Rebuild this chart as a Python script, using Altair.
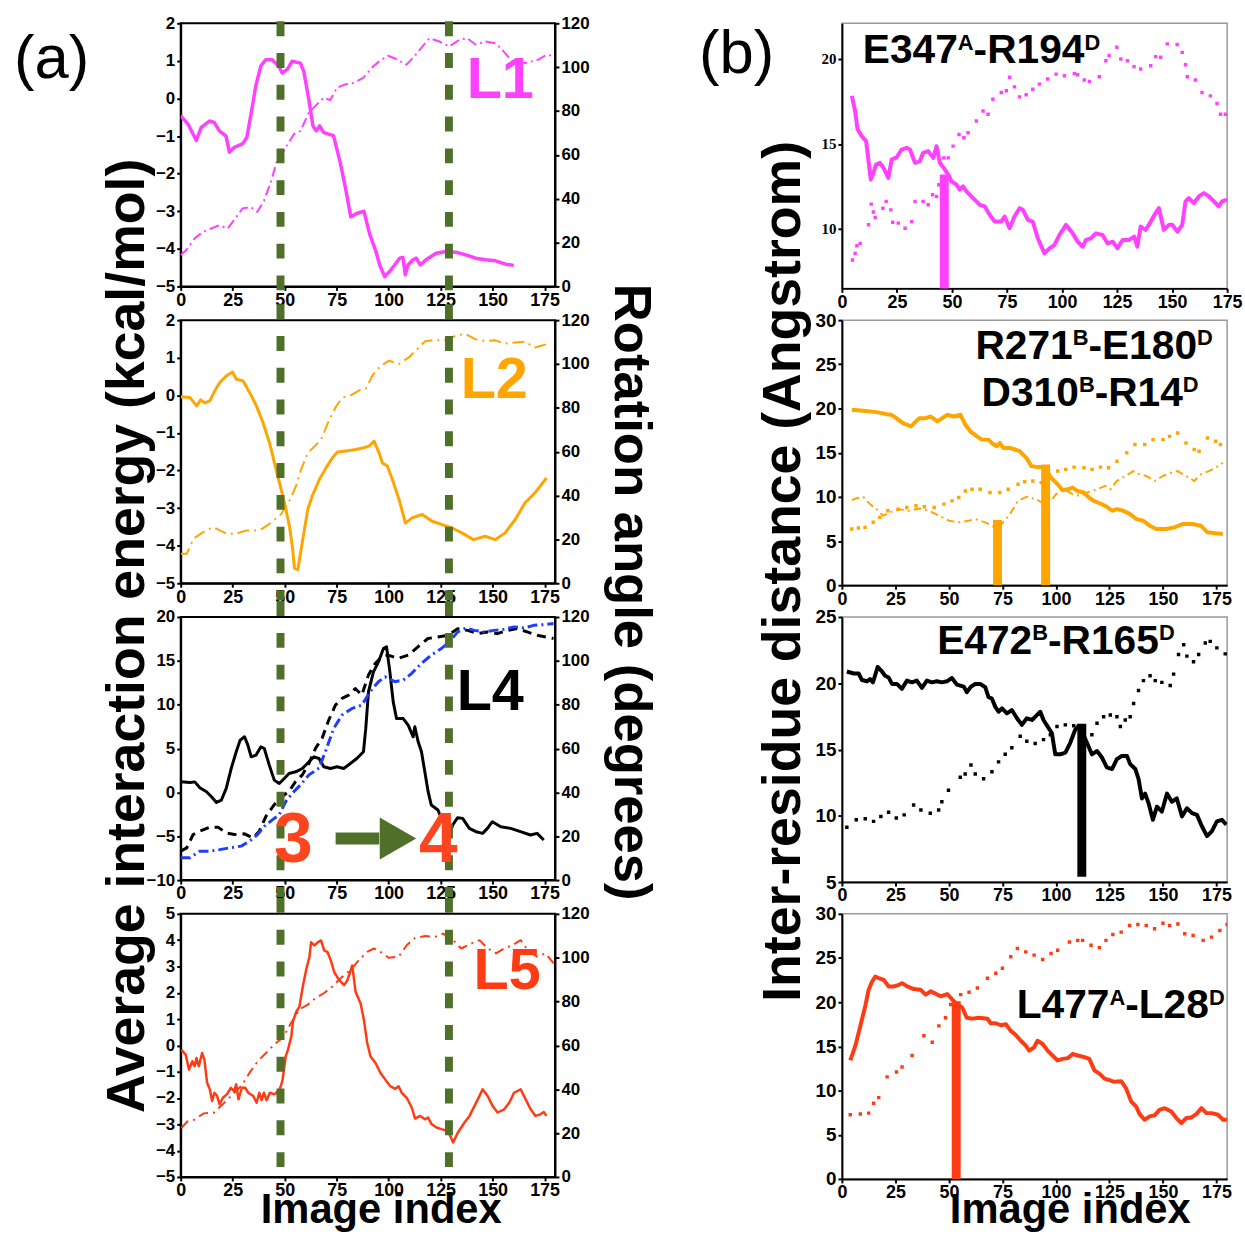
import altair as alt
import pandas as pd

FONT = "Liberation Sans"
SERIF = "Liberation Serif"

MAGENTA = "#ff40ff"
ORANGE = "#ffa500"
RED = "#ff3b14"
BLUE = "#1f3cff"
GREEN = "#4e7028"
TXTRED = "#ff4420"

# ---------------- panel (a) data: (image index, value) ----------------
L1_E = [(0,-0.46),(3.5,-0.68),(7.5,-1.12),(9.9,-0.77),(13.8,-0.60),(16.2,-0.64),(18.6,-0.86),(21.8,-1.0),(23.4,-1.43),(25.8,-1.30),
        (29.7,-1.21),(31.8,-1.04),(34.5,-0.20),(36.1,0.33),(38.5,0.86),(40.9,1.03),(44,1.03),(47.2,0.86),(48.8,0.68),(51.2,0.77),
        (53.6,0.99),(57.6,0.94),(59.2,0.72),(61.6,-0.02),(63.6,-0.73),(65.2,-0.86),(66.8,-0.73),(68.7,-0.90),(71.1,-0.95),(73.5,-0.99),
        (76.7,-1.70),(79,-2.31),(81.8,-3.15),(84.6,-3.06),(88.1,-3.0),(91,-3.63),(93.9,-4.07),(95.7,-4.43),(98.1,-4.74),(100.5,-4.60),
        (102.9,-4.43),(105.3,-4.25),(106.9,-4.23),(108,-4.69),(109.3,-4.43),(111.7,-4.29),(113.3,-4.25),(115.2,-4.43),(118,-4.29),(122.8,-4.12),
        (127.6,-4.07),(132.3,-4.09),(137.1,-4.16),(141.9,-4.25),(146.7,-4.29),(151.4,-4.32),(156.2,-4.41),(160.2,-4.44)]
L1_R = [(0,14.3),(2.7,16.6),(6.7,21.9),(10.7,24.9),(14.6,26.4),(18.6,27.9),(22.6,26.4),(25,29.4),(29.7,35.5),(33.7,36.2),(36.9,34),
        (40.1,39.2),(43.3,47.5),(46.1,56.6),(48.8,60.4),(52,65.7),(54.4,69.4),(57.6,70.9),(61.6,79.2),(65.5,83),(68.7,86),(71.9,85),
        (75.1,90.6),(79,92.1),(83,92.8),(87.8,95.1),(92.6,100.4),(96.5,103.4),(99.7,105.2),(103.7,103.7),(108.5,101.1),(111.7,104.2),
        (115.6,108.7),(119.6,113.2),(124.4,111.7),(129.2,109.4),(134,112.5),(137.9,113.2),(141.9,110.2),(146.7,111.7),(151.4,110.9),
        (154.6,107.9),(159.4,102.6),(165.7,101.9),(172,103.4),(176,105.7),(180,104.9)]

L2_E = [(0,-0.04),(4.5,-0.06),(7.7,-0.28),(9.6,-0.12),(11.6,-0.2),(14,-0.15),(16.4,0.12),(18.8,0.34),(22,0.52),(24.9,0.62),(26.8,0.43),
        (30,0.38),(33.2,0.07),(36.4,-0.28),(39.6,-0.73),(42.7,-1.26),(45.1,-1.8),(47.5,-2.33),(49.9,-2.86),(52.3,-3.48),(53.9,-4.11),
        (54.7,-4.6),(56.3,-4.64),(57.9,-4.11),(59.5,-3.57),(61.1,-3.04),(63.5,-2.64),(66.7,-2.24),(69.9,-1.93),(73,-1.66),(75.4,-1.51),
        (79.4,-1.48),(84.2,-1.44),(87.4,-1.40),(90.6,-1.35),(93,-1.22),(95.4,-1.53),(97,-1.8),(99.4,-1.88),(101.8,-2.24),(105,-2.77),
        (108.1,-3.4),(111.3,-3.26),(116.1,-3.17),(120.9,-3.35),(125.7,-3.44),(130.5,-3.53),(135.2,-3.66),(140.8,-3.84),(146.4,-3.75),
        (151.2,-3.84),(156,-3.66),(160.8,-3.31),(165.6,-2.86),(170.3,-2.6),(175.9,-2.2)]
L2_R = [(0,13.5),(2.9,13.5),(6.1,20.3),(10.8,23.3),(15.6,25.6),(18.8,24.1),(22,22.6),(26.8,22.6),(31.6,24.1),(38,24.1),(42.7,27.1),
        (48.3,31.6),(52.3,37.6),(55.5,44.4),(57.9,51.9),(61.1,59.4),(64.3,62.4),(67.5,65.4),(70.7,72.9),(74.6,80.5),(77.8,84.7),
        (81.8,85.7),(85.8,88),(89,88.7),(92.2,94.7),(96.2,99.2),(100.2,101.5),(105,100),(109.7,103),(113.7,106.8),(117.7,110.5),
        (122.5,110.8),(127.3,110.8),(132.1,112.8),(136.8,113.8),(141.6,111.3),(146.4,110.5),(151.2,110.8),(156,109.3),(160.8,109.8),
        (165.6,110.2),(170.3,107.5),(175.9,109)]

L4_E = [(0,1.21),(4.5,1.14),(6.8,1.2),(9.2,0.53),(12.4,0.08),(14.8,-0.49),(17.2,-1.14),(19.6,-0.87),(21.9,0.46),(24.3,2.73),(26.7,4.63),
        (28.6,5.96),(30.7,6.34),(32.3,5.39),(33.9,4.06),(36.2,4.25),(38.6,5.2),(40.2,5.01),(42.6,3.11),(45,1.4),(47.4,1.02),(49.8,1.59),
        (52.1,2.16),(55.3,2.35),(58.5,2.73),(61.7,3.49),(64.1,4.06),(66.5,3.87),(68.8,2.92),(72,2.73),(75.2,2.92),(78.4,2.73),(81.6,3.3),
        (84.7,3.87),(87.9,4.63),(89,7.29),(90.3,11.46),(92.7,13.74),(95.1,14.88),(97.5,16.4),(99,16.6),(100.6,13.74),(102.2,10.32),
        (103.8,8.42),(107,8.42),(109.4,7.67),(111.8,6.34),(112.6,7.48),(114.2,5.77),(115.8,4.63),(117.4,2.35),(119,0.08),(120.5,-1.44),
        (123.7,-2.01),(126.1,-3.34),(128.5,-5.24),(130.8,-3.72),(133.2,-2.88),(135.6,-2.96),(138.8,-4.1),(142,-4.48),(145.2,-4.67),
        (147.5,-4.1),(149.9,-3.34),(153.9,-3.91),(158.7,-4.1),(163.4,-4.48),(168.2,-4.86),(171.4,-4.67),(174.6,-5.43)]
L4_R_BLACK = [(0,13.2),(2.9,14.7),(6,20.8),(9.2,22.3),(14,24.1),(18,24.1),(21.9,21.5),(25.9,20.8),(30.7,21.1),(34.7,19.2),(37.8,22.3),
              (41,29.1),(45,34.4),(48.9,38.2),(52.1,40.5),(55.3,45),(58.5,48),(61.7,53.3),(64.9,60.2),(68,64.7),(71.2,73),(74.4,79.8),
              (77.6,82.9),(80.8,84.4),(84,87.4),(87.1,84.4),(90.3,93.5),(93.5,98.8),(96.7,101.8),(99.8,102.6),(104.6,101.1),(109.4,102.6),
              (114.1,106.4),(118.9,110.2),(123.7,110.9),(128.5,111.7),(133.2,114.7),(138,113.9),(142.8,112.4),(147.5,113.2),(152.3,112.4),
              (157.1,113.9),(161.8,114.7),(166.6,113.2),(171.4,111.7),(179.3,110.2)]
L4_R_BLUE = [(0,10.2),(4.5,10.2),(9.2,13.2),(14,13.2),(18.8,13.9),(23.5,14.7),(29.1,15.5),(33,17.7),(37,20.8),(40.2,24.5),(44.2,27.6),
             (47.4,29.8),(50.6,35.9),(53.7,39.7),(57.7,43.5),(61.7,48),(66.5,51.1),(69.6,58.6),(73.6,69.2),(77.6,75.3),(82.4,78.3),
             (87.1,79.8),(91.1,85.9),(95.1,90.5),(98.3,92.7),(103,90.5),(107,91.2),(111,94.2),(115.7,98.8),(120.5,102.6),(125.3,105.6),
             (129.2,108.6),(133.2,113.2),(137.2,115),(141.2,113.9),(145.9,113.2),(150.7,113.9),(155.5,114.4),(160.3,115.5),(165,115),
             (169.8,116.2),(174.6,116.5),(179.3,117)]

L5_E = [(0.3,-0.16),(2.4,-0.35),(4,-0.92),(5.6,-0.6),(6.7,-0.79),(7.6,-0.48),(8.7,-0.79),(10.3,-0.29),(11.4,-0.54),(12.7,-1.42),(14,-1.67),
        (15.1,-2.11),(16.2,-1.8),(17.5,-1.92),(18.7,-2.24),(20.3,-1.99),(22.2,-1.86),(24.1,-1.61),(25.7,-1.74),(26.7,-1.48),(27.8,-2.05),
        (29.4,-1.61),(31,-1.61),(32.5,-1.8),(34.9,-1.92),(36.5,-2.18),(37.8,-1.8),(38.9,-2.08),(40,-1.8),(41.3,-2.08),(42.9,-1.8),
        (45.2,-1.86),(47.6,-1.67),(48.9,-1.36),(50.5,-0.42),(51.6,-0.16),(53.2,0.34),(54,0.91),(55.6,1.28),(57.1,1.47),(58.7,2.23),
        (60.3,2.86),(61.9,3.36),(62.7,3.92),(64.3,3.8),(65.9,3.92),(67.5,3.99),(69,3.61),(70.6,3.55),(72.2,3.23),(73.8,2.79),(76.2,2.48),
        (78.6,2.29),(80.2,2.48),(82.5,3.04),(84.1,2.04),(86.5,1.6),(88.1,0.97),(89.7,0.09),(91.3,-0.42),(93.7,-0.67),(96,-1.04),
        (98.4,-1.3),(100.8,-1.55),(103.2,-1.65),(104.8,-1.55),(106.3,-1.8),(108.7,-1.99),(111.1,-2.36),(112.7,-2.78),(115.1,-2.68),
        (117.5,-2.81),(119,-2.74),(120.6,-2.99),(123,-3.12),(125.4,-3.18),(128.6,-3.25),(131,-3.69),(133.3,-3.31),(136.5,-2.93),
        (138.9,-2.68),(141.3,-2.3),(143.7,-1.92),(145.2,-1.67),(147.6,-1.92),(150,-2.3),(152.4,-2.55),(155.6,-2.43),(158,-2.18),
        (160.3,-1.8),(163.5,-1.67),(165.9,-2.05),(168.3,-2.43),(170.6,-2.68),(173,-2.62),(174.6,-2.53),(175.9,-2.68)]
L5_R = [(0.3,22.3),(3.2,25.3),(6.3,26),(11.1,29),(15.9,29.3),(20.6,33.5),(25.4,38),(29.4,41.8),(33.3,47.8),(37.3,53.1),(41.3,56.8),
        (45.2,60.6),(49.2,63.6),(53.2,70.4),(57.1,76.4),(61.1,78.6),(65.1,81.7),(69,83.9),(73,86.9),(77,90.7),(81.7,94.4),(85.7,98.9),
        (89.7,102.7),(92.9,104.2),(96,102.7),(100,100),(104.8,100.5),(108.7,105.7),(112.7,109),(117.5,109.9),(122.2,109.5),(126.2,111),
        (131,108),(134.9,104.2),(139.7,106.5),(143.7,108),(147.6,104.2),(151.6,102),(155.6,104.2),(159.5,105.7),(163.5,108),
        (167.5,102.7),(171.4,100.5),(175.4,102),(179.4,97.4)]

GREEN_X = [48, 129]
ARROW_Y = -5.25
ARROW_SHAFT = (74.5, 95.5)
ARROW_HEAD_X = 104.5

# ---------------- panel (b) data: (image index, distance) ----------------
B1_SOLID = [(4.5,17.83),(6,16.94),(7.1,15.86),(9,15.46),(11,15.17),(12.1,13.98),(13.1,12.9),(14.3,13.29),(15.5,13.79),(17.3,13.89),
            (18.9,13.59),(21.1,13.0),(22.6,14.08),(24.9,14.22),(27.1,14.67),(29.4,14.77),(30.9,14.67),(33.2,13.89),(35.4,13.98),
            (36.9,14.48),(39.2,14.58),(41.5,14.18),(43,14.87),(44.5,13.89),(46.8,13.49),(48.3,13.2),(49.8,12.8),(52,12.6),(53.5,12.31),
            (55,12.5),(56.6,12.21),(58.8,11.91),(61.1,11.62),(62.6,11.42),(64.9,11.32),(67.1,10.83),(69.4,10.43),(72.4,10.43),
            (73.9,10.73),(76.2,10.04),(78.4,10.73),(80.7,11.22),(82.2,11.12),(84.5,10.53),(86.7,10.43),(89,9.45),(92,8.56),(94.3,8.86),
            (96.5,9.05),(98.8,9.64),(101.8,10.24),(104.8,9.74),(107.1,9.25),(109.4,8.95),(110.9,9.35),(113.1,9.45),(115.4,9.74),
            (118.4,9.64),(120.7,9.15),(123,9.25),(125.2,8.86),(127.5,9.35),(130.5,9.35),(132.8,9.55),(134.2,8.95),(135.7,10.14),
            (138,9.94),(140.3,10.43),(142.5,10.93),(144,11.22),(146.3,9.94),(148.6,10.24),(150.1,10.24),(152.4,9.84),(154.6,10.24),
            (156.1,11.62),(157.6,11.81),(159.9,11.52),(162.2,11.91),(164.4,12.11),(166.7,11.91),(169,11.62),(171.2,11.32),(172.7,11.62),
            (175,11.72)]
B1_DOTS = [(4.8,8.17),(6,8.56),(6.8,9.01),(8.3,9.15),(12.1,10.24),(13.3,11.46),(14.3,10.99),(15.1,10.67),(18.6,11.22),(20.1,11.62),
           (22.2,11.12),(23.1,10.39),(25.6,10.34),(28.7,10.04),(31.7,10.43),(33.2,11.62),(36.9,11.62),(39.2,11.42),(41.2,12.01),(43,11.91),
           (44,12.6),(46.3,14.18),(48.3,14.18),(50.5,14.87),(53.2,15.56),(55.4,15.36),(57.3,15.66),(61.1,16.35),(64.1,16.94),(66.4,16.75),
           (68.6,17.63),(72.4,18.03),(74.7,18.13),(76.2,18.92),(78.4,18.36),(80.7,17.77),(83.7,17.89),(86.7,18.22),(89.7,18.52),
           (93.5,18.82),(97.3,19.11),(101.1,19.01),(105.6,19.15),(107.1,19.07),(110.1,18.76),(112.4,18.68),(116.9,18.95),(119.9,19.9),
           (121.4,20.2),(124.9,20.69),(126.7,20.0),(129.7,19.9),(132.7,19.55),(135.7,19.41),(140.3,19.6),(142.5,20.14),(144.8,20.1),
           (147.8,20.89),(152.3,20.85),(154.6,20.39),(156.1,19.66),(156.9,18.95),(160.6,18.76),(163.6,18.03),(167.4,17.83),(170.4,17.38),
           (172,16.75),(174.2,16.75)]
B1_BARS = [(46.5, 6.5, 13.2)]

B2_SOLID = [(4.6,19.85),(10,19.74),(16.2,19.59),(20.8,19.36),(23.1,19.29),(25.4,18.91),(28.5,18.35),(32.3,17.98),(34.6,18.54),(36.2,18.91),
            (39.2,18.91),(41.5,19.1),(44.6,18.54),(46.9,18.91),(49.2,19.29),(52.3,19.1),(55.4,19.29),(57.7,18.16),(60,17.42),(63.1,16.85),
            (65.4,16.48),(68.5,16.48),(70,16.1),(72.3,15.73),(73.8,16.1),(75.4,15.54),(78.5,15.54),(80.8,15.36),(83.1,15.17),(84.6,14.79),
            (86.2,14.42),(88.5,13.48),(91.5,13.37),(94.6,13.37),(97.7,12.17),(100.8,11.42),(103.1,10.75),(105.4,10.86),(107.7,11.05),
            (110,10.67),(113.1,10.49),(115.4,9.93),(117.7,9.55),(120.8,9.25),(123.8,8.88),(126.2,8.43),(128.5,8.61),(131.5,8.43),
            (134.6,8.05),(137.7,7.49),(140.8,7.3),(143.8,6.74),(146.9,6.37),(151.5,6.37),(155.4,6.55),(159.2,6.93),(163.8,6.93),
            (167.7,6.74),(170.8,5.99),(174.6,5.88),(178,5.8)]
B2_DASHED = [(4.6,9.63),(6.9,9.85),(10,10),(13.1,9.18),(16.2,8.61),(19.2,7.87),(22.3,8.24),(26.9,8.61),(31.5,8.43),(36.2,8.69),(40.8,8.43),
             (45.4,7.87),(50,7.3),(54.6,7.12),(59.2,7.3),(62.3,7.49),(66.9,7.12),(71.5,6.55),(74.6,6.93),(78.5,8.05),(82.3,9.55),(86.2,10),
             (90.8,9.74),(94.6,9.18),(97.7,9.55),(100,10.3),(103.8,10.86),(107.7,10.3),(111.5,10.11),(114.6,10.49),(119.2,10.86),
             (123.1,11.24),(125.4,10.86),(128.5,11.8),(132.3,12.36),(136.2,12.92),(139.2,12.55),(142.3,12.36),(146.2,11.8),(150,12.36),
             (153.8,12.73),(156.9,12.92),(160.8,12.36),(164.6,11.8),(167.7,12.55),(171.5,12.92),(174.6,13.3),(178,13.86)]
B2_DOTS = [(4.6,6.37),(7.7,6.48),(10.8,6.55),(14.6,7.12),(17.7,7.68),(21.5,8.43),(26.2,8.61),(30.3,8.8),(34.6,8.99),(38.5,8.88),(43.1,8.8),
           (47.7,9.18),(51.5,9.55),(54.6,9.93),(57.7,10.67),(60.8,10.86),(64.6,10.86),(69.2,10.49),(73.8,10.49),(77.7,10.86),(82.3,11.42),
           (85.4,11.72),(89.2,11.8),(93.1,11.61),(96.9,12.17),(100.8,12.92),(104.6,13.11),(108.5,13.37),(113.1,13.3),(116.9,13.11),
           (120.8,13.37),(124.6,13.3),(128.5,14.04),(133.1,14.98),(136.9,15.92),(141.5,15.92),(145.4,16.48),(150,16.48),(153.1,16.85),
           (156.9,17.23),(160.8,16.1),(164.6,15.36),(166.9,15.17),(170.8,16.67),(174.6,16.29),(176.9,15.92)]
B2_BARS = [(72.7, 0, 7.4), (95.2, 0, 13.67)]

B3_SOLID = [(2.3,20.89),(5.5,20.74),(7.8,20.74),(9.3,20.25),(11.7,20.15),(13.2,20.32),(14.5,20.07),(16.7,21.23),(18.7,20.89),(20.2,20.57),
            (21.8,20.44),(23.4,19.95),(25.7,19.95),(28,19.58),(30.4,20.2),(32.7,20.07),(35,20.2),(37.4,19.65),(39.7,20.2),(42.1,20.07),
            (44.4,20.15),(46.7,20.07),(49.1,20.15),(51.4,20.4),(53.7,19.9),(56.9,19.75),(58.4,19.33),(60.3,19.75),(62.3,19.95),(64.6,19.95),
            (67,19.7),(68.5,18.96),(70.1,18.84),(71.7,18.22),(73.2,17.85),(74.8,18.1),(77.1,17.73),(79.4,17.98),(81.8,17.36),(84.1,16.86),
            (86.4,17.36),(88.8,17.23),(91.1,17.6),(92.7,17.85),(94.2,17.23),(96.6,16.62),(98.1,16.25),(99.7,14.64),(102,14.64),(104.4,14.77),
            (106.7,15.51),(109,16.49),(110.6,16.79),(112.1,16.37),(114.5,15.51),(116.8,14.64),(119.2,14.89),(121.5,14.4),(123.8,13.65),
            (126.2,13.53),(128.5,14.27),(130.8,14.52),(133.2,14.52),(134.7,13.9),(137.1,13.53),(138.6,12.79),(140.2,11.31),(141.7,11.68),
            (143.3,10.94),(145.3,9.7),(147.2,10.69),(149.5,10.32),(151.9,11.68),(154.2,11.06),(156.5,11.31),(158.9,9.95),(161.2,10.57),
            (163.6,10.2),(165.9,10.07),(168.2,9.21),(170.6,8.47),(172.9,8.84),(175.2,9.58),(177.6,9.7),(179.6,9.33)]
B3_DOTS = [(2.3,9.14),(6.7,9.7),(10.9,9.78),(14.8,9.58),(18.2,9.95),(21.8,10.27),(25.4,9.83),(29.1,10.07),(33.5,10.81),(36.9,10.44),
           (41.3,10.2),(45.2,10.44),(46.7,11.06),(49.8,11.93),(55.3,12.91),(57.6,13.16),(60.3,13.83),(62.3,13.16),(66.2,12.79),(70.1,13.33),
           (73.2,14.07),(76.3,14.64),(79.4,15.14),(83.3,16.0),(86.4,15.63),(90.3,15.46),(94.2,15.75),(97.4,16.12),(100.5,16.74),
           (104.4,16.86),(108.3,16.79),(112.9,16.49),(116.8,16.12),(119.2,16.99),(122.3,17.48),(125.4,17.6),(128.5,17.48),(130.1,16.74),
           (132.4,17.23),(134.7,17.48),(136.3,18.47),(138.6,19.46),(140.9,20.2),(144,20.57),(146.4,20.2),(149.5,20.07),(153.4,19.83),
           (155,20.69),(157.3,22.17),(159.7,22.91),(161.2,22.05),(164.3,21.63),(166.7,22.17),(169.8,23.04),(172.1,23.16),(175.2,22.67),
           (179.1,22.22)]
B3_BARS = [(112.1, 5.4, 16.94)]

B4_SOLID = [(3.9,13.41),(6.3,15.08),(8.6,17.32),(10.9,19.55),(12.5,21.42),(14.1,22.35),(15.6,22.91),(17.2,22.72),(19.5,22.53),(21.9,21.79),
            (24.2,21.79),(26.6,21.97),(28.1,22.16),(30.5,21.79),(33.6,21.49),(36.7,21.42),(39.1,20.86),(41.4,21.23),(43.8,20.97),(46.1,20.67),
            (49.2,20.93),(51.6,20.3),(53.9,19.74),(56.3,19.37),(58.3,18.25),(60.9,18.14),(64.1,18.25),(68,18.14),(69.5,17.62),(71.9,17.62),
            (74.2,17.39),(76.6,17.5),(78.9,16.76),(81.3,16.28),(83.6,15.64),(85.9,15.08),(87.5,14.52),(89.8,14.9),(91.4,15.64),(93.8,15.27),
            (96.1,14.52),(98.4,13.97),(100.8,13.41),(103.1,13.59),(105.5,13.67),(107.8,14.15),(110.2,13.97),(113.3,13.78),(115.6,13.59),
            (118,12.29),(120.3,11.92),(122.7,11.36),(125,11.17),(127.3,10.99),(130.5,11.06),(132.8,10.24),(135.2,8.75),(137.5,8.19),
            (139.1,7.34),(141.4,6.7),(143.8,7.08),(146.1,7.19),(148.4,7.82),(150.8,8.01),(153.9,7.63),(156.3,6.89),(158.6,6.33),
            (160.9,6.89),(163.3,6.96),(165.6,7.34),(168,8.01),(170.3,7.45),(172.7,7.45),(175.8,7.26),(178.1,6.7),(180,6.7)]
B4_DOTS = [(3.9,7.26),(8.6,7.34),(12.5,7.45),(14.8,8.57),(17.2,9.2),(21.1,11.55),(25.5,12.1),(28.1,12.66),(32.8,13.97),(38.3,16.2),
           (42.2,15.46),(45.3,17.32),(48.4,18.25),(50.8,19.74),(55.5,20.86),(59.4,21.12),(63.3,21.6),(68,22.72),(71.9,23.28),(75,23.84),
           (78.9,25.14),(82,26.07),(85.9,25.7),(89.8,25.33),(93.8,24.84),(97.7,25.51),(100.8,25.88),(106.3,26.82),(110.2,27.0),(112.5,27.0),
           (116.4,26.44),(120.3,26.18),(123.4,27.0),(126.6,27.67),(130.5,27.93),(134.4,28.68),(138.3,28.79),(142.2,28.68),(146.1,28.31),
           (150,28.94),(153.1,28.68),(157,28.86),(160.2,27.75),(164.1,27.56),(168.8,27.0),(172.7,27.37),(176.6,28.12),(180,28.79)]
B4_BARS = [(53.4, 0, 20.1)]

XTICKS = [0, 25, 50, 75, 100, 125, 150, 175]
ROT_TICKS = [0, 20, 40, 60, 80, 100, 120]

WL, HL = 377, 265
WR, HR = 388, 267


def xax():
    return alt.Axis(values=XTICKS, format="d", title=None, grid=False, labelFont=FONT, labelFontSize=18,
                    labelFontWeight="bold", labelColor="black", labelFlush=False, labelOverlap=False, labelPadding=1,
                    domainColor="black", domainWidth=2, tickColor="black", tickWidth=2, tickSize=4)


def yax(vals, orient, size=17, font=FONT):
    return alt.Axis(values=vals, orient=orient, format="d", title=None, grid=False, labelFont=font, labelFontSize=size,
                    labelFontWeight="bold", labelColor="black", labelFlush=False, labelOverlap=False, labelPadding=2,
                    domainColor="black", domainWidth=2, tickColor="black", tickWidth=2, tickSize=4)


def xs(dom):
    return alt.Scale(domain=dom, nice=False, zero=False)


def line(pairs, xdom, ydom, yaxis, color, width, dash=None):
    d = pd.DataFrame(pairs, columns=["x", "y"])
    kw = dict(color=color, strokeWidth=width, clip=True, strokeJoin="round")
    if dash:
        kw["strokeDash"] = dash
    return alt.Chart(d).mark_line(**kw).encode(
        x=alt.X("x:Q", scale=xs(xdom), axis=xax()),
        y=alt.Y("y:Q", scale=xs(ydom), axis=yaxis),
    )


def dots(pairs, xdom, ydom, yaxis, color):
    d = pd.DataFrame(pairs, columns=["x", "y"])
    return alt.Chart(d).mark_square(color=color, size=12, opacity=1, clip=True).encode(
        x=alt.X("x:Q", scale=xs(xdom), axis=xax()),
        y=alt.Y("y:Q", scale=xs(ydom), axis=yaxis),
    )


def bars(triples, xdom, ydom, yaxis, color):
    d = pd.DataFrame(triples, columns=["x", "y0", "y1"])
    return alt.Chart(d).mark_rule(color=color, strokeWidth=9).encode(
        x=alt.X("x:Q", scale=xs(xdom), axis=xax()),
        y=alt.Y("y0:Q", scale=xs(ydom), axis=yaxis),
        y2="y1:Q",
    )


def txt(s, x, y, size, color="black", font=FONT, weight="bold", angle=0, align="left"):
    kw = dict(fontSize=size, font=font, fontWeight=weight, color=color, align=align, baseline="alphabetic")
    if angle:
        kw["angle"] = angle
    return alt.Chart(pd.DataFrame({"t": [s]})).mark_text(**kw).encode(
        text="t:N", x=alt.value(x), y=alt.value(y))


AW = {"A": .722, "B": .722, "D": .722, "E": .667, "L": .611, "R": .722, "-": .333}


def tw(s, size):
    return sum(AW.get(c, .556) for c in s) * size


def sup_title(parts, x, y, size, ssize, center=False):
    total = sum(tw(t, ssize if s else size) for t, s in parts)
    cx = x - total / 2 if center else x
    out = []
    for t, s in parts:
        fs = ssize if s else size
        yy = y - 0.716 * (size - ssize) if s else y
        out.append(txt(t, cx, yy, fs))
        cx += tw(t, fs)
    return out


def green_rules(top, bottom):
    d = pd.DataFrame({"x": GREEN_X})
    return alt.Chart(d).mark_rule(color=GREEN, strokeWidth=8, strokeDash=[15, 17]).encode(
        x=alt.X("x:Q", scale=xs([0, 180]), axis=xax()),
        y=alt.value(top), y2=alt.value(bottom))


XA = [0, 180]
VIEW_A = alt.ViewBackground(stroke="black", strokeWidth=2)
VIEW_B = alt.ViewBackground(stroke="#9a9a9a", strokeWidth=1.5)


def a_panel(energy_layers, rot_layers, extra, top, bottom):
    return alt.layer(
        alt.layer(*energy_layers),
        alt.layer(*rot_layers),
        green_rules(top, bottom),
        *extra,
    ).resolve_scale(y="independent").properties(width=WL, height=HL, view=VIEW_A)


E1 = [-5, -4, -3, -2, -1, 0, 1, 2]
rot_ax = yax(ROT_TICKS, "right")

p1 = a_panel(
    [line(L1_E, XA, [-5, 2], yax(E1, "left"), MAGENTA, 3.5)],
    [line(L1_R, XA, [0, 120], rot_ax, MAGENTA, 2, [10, 4, 2, 4])],
    [txt("L1", 288, 75, 58, MAGENTA),
     txt("(a)", -130, 55, 62, "black", FONT, "normal", align="center"),
     txt("Average interaction energy (kcal/mol)", -37, 617, 54, "black", angle=270, align="center"),
     txt("Rotation angle (degrees)", 437, 573, 53, "black", angle=90, align="center")],
    -2, HL + 17)

p2 = a_panel(
    [line(L2_E, XA, [-5, 2], yax(E1, "left"), ORANGE, 3)],
    [line(L2_R, XA, [0, 120], rot_ax, ORANGE, 2, [12, 5, 2, 5])],
    [txt("L2", 282, 78, 58, ORANGE)],
    -16, HL + 17)

E4 = [-10, -5, 0, 5, 10, 15, 20]
shaft = alt.Chart(pd.DataFrame({"x": [ARROW_SHAFT[0]], "x2": [ARROW_SHAFT[1]], "y": [ARROW_Y]})).mark_rule(
    color=GREEN, strokeWidth=12).encode(
    x=alt.X("x:Q", scale=xs(XA), axis=xax()), x2="x2:Q",
    y=alt.Y("y:Q", scale=xs([-10, 20]), axis=yax(E4, "left")))
head = alt.Chart(pd.DataFrame({"x": [ARROW_HEAD_X], "y": [ARROW_Y]})).mark_point(
    shape="triangle-right", filled=True, size=1800, color=GREEN, opacity=1).encode(
    x=alt.X("x:Q", scale=xs(XA), axis=xax()),
    y=alt.Y("y:Q", scale=xs([-10, 20]), axis=yax(E4, "left")))

p4 = a_panel(
    [line(L4_E, XA, [-10, 20], yax(E4, "left"), "black", 3), shaft, head],
    [line(L4_R_BLACK, XA, [0, 120], rot_ax, "black", 3, [9, 6]),
     line(L4_R_BLUE, XA, [0, 120], rot_ax, BLUE, 3, [10, 4, 2, 4])],
    [txt("L4", 278, 94, 58, "black"),
     txt("3", 94, 247, 70, TXTRED),
     txt("4", 240, 247, 70, TXTRED)],
    -16, HL + 17)

p5 = a_panel(
    [line(L5_E, XA, [-5, 5], yax(list(range(-5, 6)), "left"), RED, 2.5)],
    [line(L5_R, XA, [0, 120], rot_ax, RED, 2, [10, 5, 2, 5])],
    [txt("L5", 295, 76, 58, RED),
     txt("Image index", 202, 311, 42, "black", align="center")],
    -16, HL)


def b_panel(layers, extra):
    return alt.layer(*layers, *extra).properties(width=WR, height=HR, view=VIEW_B)


XB1 = [0, 175]
XB = [0, 180]
yb1 = yax([10, 15, 20], "left", 15, SERIF)
q1 = b_panel(
    [line(B1_SOLID, XB1, [6.5, 22.1], yb1, MAGENTA, 4),
     dots(B1_DOTS, XB1, [6.5, 22.1], yb1, MAGENTA),
     bars(B1_BARS, XB1, [6.5, 22.1], yb1, MAGENTA)],
    sup_title([("E347", False), ("A", True), ("-R194", False), ("D", True)], 21, 40, 41, 22)
    + [txt("(b)", -106, 50, 62, "black", FONT, "normal", align="center"),
       txt("Inter-residue distance (Angstrom)", -42, 552, 54, "black", angle=270, align="center")])

yb2 = yax([0, 5, 10, 15, 20, 25, 30], "left", 19)
q2 = b_panel(
    [line(B2_SOLID, XB, [0, 30], yb2, ORANGE, 4),
     line(B2_DASHED, XB, [0, 30], yb2, ORANGE, 2, [8, 4, 2, 4]),
     dots(B2_DOTS, XB, [0, 30], yb2, ORANGE),
     bars(B2_BARS, XB, [0, 30], yb2, ORANGE)],
    sup_title([("R271", False), ("B", True), ("-E180", False), ("D", True)], 254, 39, 41, 22, center=True)
    + sup_title([("D310", False), ("B", True), ("-R14", False), ("D", True)], 250, 86, 41, 22, center=True))

yb3 = yax([5, 10, 15, 20, 25], "left", 19)
q3 = b_panel(
    [line(B3_SOLID, XB, [5, 25], yb3, "black", 4),
     dots(B3_DOTS, XB, [5, 25], yb3, "black"),
     bars(B3_BARS, XB, [5, 25], yb3, "black")],
    sup_title([("E472", False), ("B", True), ("-R165", False), ("D", True)], 96, 37, 41, 22))

q4 = b_panel(
    [line(B4_SOLID, XB, [0, 30], yb2, RED, 4),
     dots(B4_DOTS, XB, [0, 30], yb2, RED),
     bars(B4_BARS, XB, [0, 30], yb2, RED)],
    sup_title([("L477", False), ("A", True), ("-L28", False), ("D", True)], 176, 105, 41, 22)
    + [txt("Image index", 230, 311, 42, "black", align="center")])

chart = alt.concat(
    p1, q1, p2, q2, p4, q3, p5, q4,
    columns=2, spacing={"row": 32, "column": 289}, bounds="flush",
).properties(
    padding={"left": 13, "top": 9, "right": 2, "bottom": 0},
    background="white",
)

chart.save("out.html", embed_options={"renderer": "svg", "actions": False})
